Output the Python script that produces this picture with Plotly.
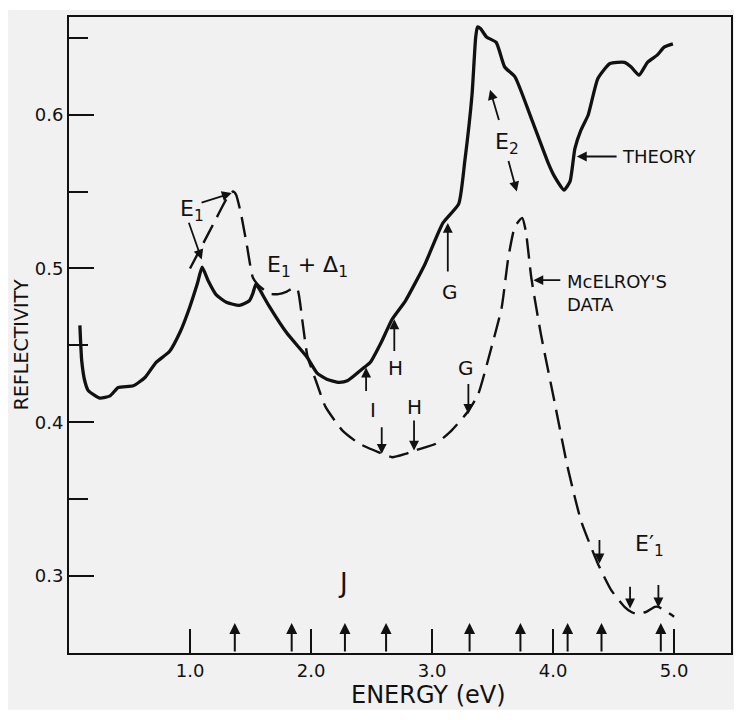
import plotly.graph_objects as go

# ---------------- data ----------------
theory_x = [0.09, 0.105, 0.13, 0.16, 0.256, 0.339, 0.407, 0.531, 0.628, 0.72, 0.83, 0.92,
            0.996, 1.06, 1.10, 1.15, 1.215, 1.30, 1.407, 1.49, 1.52, 1.545, 1.57, 1.65,
            1.80, 1.97, 2.05, 2.13, 2.23, 2.30, 2.42, 2.49, 2.58, 2.67, 2.78, 2.94, 3.09,
            3.22, 3.27, 3.33, 3.36, 3.375, 3.40, 3.45, 3.53, 3.60, 3.685, 3.82, 3.96, 4.01,
            4.09, 4.14, 4.18, 4.23, 4.29, 4.37, 4.47, 4.59, 4.645, 4.71, 4.78, 4.86, 4.92, 4.99]
theory_y = [0.463, 0.440, 0.427, 0.4205, 0.4157, 0.4172, 0.4226, 0.4237, 0.4291, 0.439, 0.446, 0.459,
            0.4745, 0.490, 0.5008, 0.492, 0.483, 0.478, 0.476, 0.479, 0.484, 0.490, 0.487, 0.476,
            0.458, 0.442, 0.432, 0.428, 0.426, 0.427, 0.4345, 0.439, 0.452, 0.467, 0.479, 0.5026, 0.5296,
            0.542, 0.5695, 0.6128, 0.650, 0.657, 0.656, 0.6505, 0.647, 0.631, 0.6246, 0.5976, 0.5685, 0.560,
            0.551, 0.5566, 0.578, 0.590, 0.5998, 0.6235, 0.6333, 0.634, 0.631, 0.6257, 0.634, 0.6387, 0.644, 0.646]

mcelroy_x = [1.00, 1.10, 1.20, 1.30, 1.355, 1.38, 1.42, 1.47, 1.52, 1.58, 1.66, 1.73, 1.80, 1.86,
             1.89, 1.93, 1.97, 2.04, 2.12, 2.26, 2.40, 2.56, 2.67, 2.78, 2.87, 3.03, 3.16, 3.29,
             3.38, 3.49, 3.575, 3.63, 3.685, 3.745, 3.775, 3.82, 3.90, 4.01, 4.12, 4.23, 4.37,
             4.48, 4.59, 4.65, 4.70, 4.77, 4.84, 4.87, 5.00]
mcelroy_y = [0.500, 0.515, 0.530, 0.545, 0.550, 0.548, 0.536, 0.515, 0.494, 0.488, 0.4835, 0.4833, 0.485, 0.4875,
             0.486, 0.465, 0.443, 0.427, 0.410, 0.3946, 0.386, 0.3805, 0.3773, 0.3795, 0.382, 0.386, 0.3946, 0.4064,
             0.418, 0.4485, 0.4745, 0.507, 0.5274, 0.5328, 0.524, 0.494, 0.457, 0.414, 0.3708, 0.3362, 0.3081,
             0.2909, 0.280, 0.2765, 0.2753, 0.2768, 0.280, 0.280, 0.2736]

x_tick_vals = [1, 2, 3, 4, 5]
x_tick_text = ["1.0", "2.0", "3.0", "4.0", "5.0"]
y_tick_vals = [0.3, 0.4, 0.5, 0.6]
y_tick_text = ["0.3", "0.4", "0.5", "0.6"]

# transition energies marked on the energy axis
axis_arrow_x = [1.37, 1.84, 2.28, 2.62, 3.31, 3.73, 4.12, 4.40, 4.89]

# labelled arrows (tail -> head), data units
arrow_tail_x = [0.986, 1.083, 3.556, 3.628, 4.537, 4.072, 3.130, 2.688, 2.455, 2.584, 2.851, 3.300, 4.383, 4.636, 4.870]
arrow_tail_y = [0.5307, 0.5425, 0.5955, 0.5708, 0.5728, 0.4924, 0.4971, 0.4453, 0.4194, 0.3978, 0.4022, 0.4259, 0.3244, 0.2941, 0.2952]
arrow_head_x = [1.097, 1.345, 3.479, 3.700, 4.196, 3.837, 3.130, 2.688, 2.455, 2.584, 2.851, 3.300, 4.383, 4.636, 4.870]
arrow_head_y = [0.5058, 0.5490, 0.6162, 0.5500, 0.5728, 0.4924, 0.5296, 0.4670, 0.4356, 0.3795, 0.3816, 0.4054, 0.3082, 0.2790, 0.2796]

# text labels
label_text = ["E<sub>1</sub>", "E<sub>1</sub> + Δ<sub>1</sub>", "E<sub>2</sub>", "THEORY", "McELROY'S<br>DATA",
              "G", "H", "I", "H", "G", "J", "E′<sub>1</sub>"]
label_x = [0.90, 1.62, 3.504, 4.554, 4.099, 3.149, 2.694, 2.512, 2.851, 3.281, 2.264, 4.661]
label_y = [0.538, 0.501, 0.581, 0.5728, 0.484, 0.4846, 0.4354, 0.4082, 0.4101, 0.4354, 0.2954, 0.320]
label_anchor = ["left", "left", "left", "left", "left", "center", "center", "center", "center", "center", "center", "left"]
label_size = [22, 22, 22, 18, 18, 20, 20, 20, 20, 20, 26, 22]

FONT = "DejaVu Sans"
INK = "#111111"

fig = go.Figure()
fig.add_trace(go.Scatter(x=theory_x, y=theory_y, mode="lines",
                         line=dict(color=INK, width=3.3, shape="spline", smoothing=0.5),
                         showlegend=False, hoverinfo="skip"))
fig.add_trace(go.Scatter(x=mcelroy_x, y=mcelroy_y, mode="lines",
                         line=dict(color=INK, width=2.4, dash="20px,9px", shape="spline", smoothing=0.5),
                         showlegend=False, hoverinfo="skip"))

annotations = []
for tx, ty, hx, hy in zip(arrow_tail_x, arrow_tail_y, arrow_head_x, arrow_head_y):
    annotations.append(dict(x=hx, y=hy, ax=tx, ay=ty, xref="x", yref="y", axref="x", ayref="y",
                            text="", showarrow=True, arrowhead=2, arrowsize=1.1, arrowwidth=1.8,
                            arrowcolor=INK))
for ex in axis_arrow_x:
    annotations.append(dict(x=ex, y=0.2695, ax=ex, ay=0.25, xref="x", yref="y", axref="x", ayref="y",
                            text="", showarrow=True, arrowhead=2, arrowsize=1.1, arrowwidth=2,
                            arrowcolor=INK))
for t, lx, ly, anc, sz in zip(label_text, label_x, label_y, label_anchor, label_size):
    annotations.append(dict(x=lx, y=ly, xref="x", yref="y", text=t, showarrow=False,
                            xanchor=anc, yanchor="middle", align="left",
                            font=dict(family=FONT, size=sz, color=INK)))
annotations.append(dict(x=0.5423, y=-0.0658, xref="paper", yref="paper", text="ENERGY (eV)",
                        showarrow=False, xanchor="center", yanchor="middle",
                        font=dict(family=FONT, size=24, color=INK)))
annotations.append(dict(x=-0.072, y=0.4843, xref="paper", yref="paper", text="REFLECTIVITY",
                        showarrow=False, xanchor="center", yanchor="middle", textangle=-90,
                        font=dict(family=FONT, size=19, color=INK)))

# page body has an 8px margin: paper is 736x712 placed at (8, 8)
fig.update_layout(
    width=736, height=712,
    margin=dict(l=61, r=13, t=7, b=67),
    paper_bgcolor="white", plot_bgcolor="rgba(0,0,0,0)",
    annotations=annotations,
    shapes=[dict(type="rect", xref="paper", yref="paper", x0=-0.092, x1=1.0045, y0=-0.0893, y1=1.011,
                 fillcolor="#f1f1f1", line=dict(width=0), layer="below")],
    xaxis=dict(range=[0, 5.47], showgrid=False, zeroline=False, showline=True, linecolor=INK,
               linewidth=2, mirror=True, ticks="inside", ticklen=24, tickwidth=2, tickcolor=INK,
               tickvals=x_tick_vals, ticktext=x_tick_text,
               tickfont=dict(family=FONT, size=18, color=INK)),
    yaxis=dict(range=[0.25, 0.6635], showgrid=False, zeroline=False, showline=True, linecolor=INK,
               linewidth=2, mirror=True, ticks="inside", ticklen=25, tickwidth=2, tickcolor=INK,
               tickvals=y_tick_vals, ticktext=y_tick_text,
               minor=dict(ticks="inside", ticklen=19, tickwidth=2, tickcolor=INK,
                          tickvals=[0.35, 0.45, 0.55, 0.65]),
               tickfont=dict(family=FONT, size=18, color=INK)),
)

fig.write_html("out.html")
